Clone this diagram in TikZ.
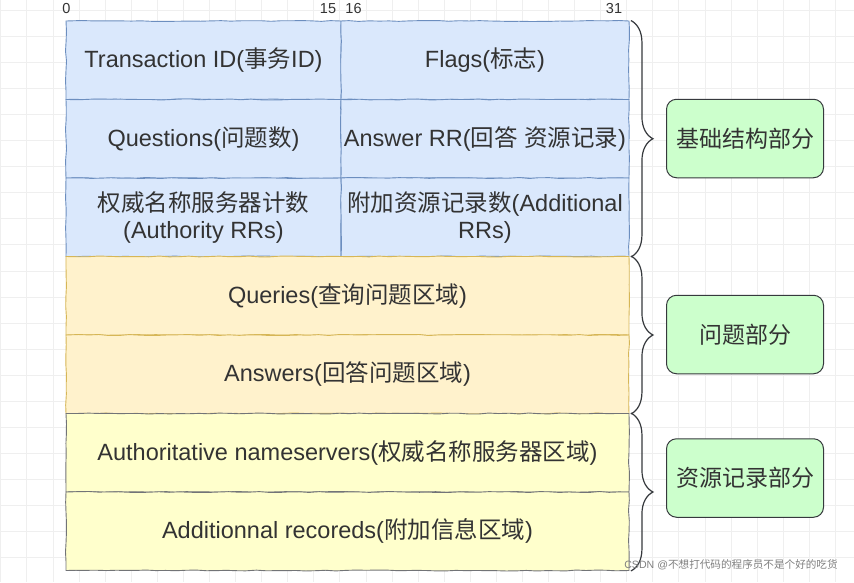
\documentclass[tikz,border=0pt]{standalone}
\usepackage{fontspec}
\setmainfont{Liberation Sans}
\newfontfamily\cjk{Noto Sans CJK SC}
\newcommand{\zh}[1]{{\cjk #1}}
\usetikzlibrary{decorations.pathreplacing,decorations.pathmorphing}
\definecolor{ink}{HTML}{333333}
\definecolor{bluefill}{HTML}{DAE8FC}
\definecolor{bluedraw}{HTML}{6C8EBF}
\definecolor{orangefill}{HTML}{FFF2CC}
\definecolor{orangedraw}{HTML}{D6B656}
\definecolor{yellowfill}{HTML}{FFFFCC}
\definecolor{darkdraw}{HTML}{36393D}
\definecolor{greenfill}{HTML}{CCFFCC}
\definecolor{gridline}{HTML}{EFEFEF}
\tikzset{
  cell/.style={draw, line width=0.9pt, inner sep=0pt, minimum height=78.5pt,
    align=center, text=ink, font=\fontsize{23.5}{27}\selectfont,
    decorate, decoration={random steps, segment length=10pt, amplitude=0.5pt}},
  leftcell/.style={cell, minimum width=275pt},
  rightcell/.style={cell, minimum width=288pt},
  widecell/.style={cell, minimum width=563pt},
  basecell/.style={fill=bluefill, draw=bluedraw},
  querycell/.style={fill=orangefill, draw=orangedraw},
  rrcell/.style={fill=yellowfill, draw=darkdraw!70},
  part/.style={draw=darkdraw, fill=greenfill, line width=1pt, rounded corners=10pt,
    minimum width=157pt, minimum height=78.5pt, text=ink,
    font=\fontsize{23}{26}\selectfont\cjk},
  bracket/.style={draw=darkdraw, line width=1.2pt, decorate,
    decoration={brace, amplitude=22pt}},
  bitnum/.style={text=ink, inner sep=0pt, font=\fontsize{14.5}{14.5}\selectfont}
}
\begin{document}
\begin{tikzpicture}[x=1pt,y=-1pt]
  \fill[white] (0,0) rectangle (854,582);
  \useasboundingbox (0,0) rectangle (854,582);
  \foreach \i in {0,...,32}
    \draw[gridline, line width=0.6pt] (0.7+26.08*\i,0) -- (0.7+26.08*\i,582);
  \foreach \j in {0,...,22}
    \draw[gridline, line width=0.6pt] (0,10+26.08*\j) -- (854,10+26.08*\j);

  \node[bitnum] (b0) at (66.5,9) {0};
  \node[bitnum] (b15) at (328,9) {15};
  \node[bitnum] (b16) at (353.5,9) {16};
  \node[bitnum] (b31) at (614,9) {31};

  \node[leftcell, basecell] (tid) at (203.5,60.25) {Transaction ID(\zh{事务}ID)};
  \node[rightcell, basecell] (flags) at (485,60.25) {Flags(\zh{标志})};
  \node[leftcell, basecell] (qdcount) at (203.5,138.75) {Questions(\zh{问题数})};
  \node[rightcell, basecell] (ancount) at (485,138.75) {Answer RR(\zh{回答} \zh{资源记录})};
  \node[leftcell, basecell] (nscount) at (203.5,217.25) {\zh{权威名称服务器计数}\\(Authority RRs)};
  \node[rightcell, basecell] (arcount) at (485,217.25) {\zh{附加资源记录数}(Additional\\RRs)};
  \node[widecell, querycell] (queries) at (347.5,295.75) {Queries(\zh{查询问题区域})};
  \node[widecell, querycell] (answers) at (347.5,374.25) {Answers(\zh{回答问题区域})};
  \node[widecell, rrcell] (authns) at (347.5,452.75) {Authoritative nameservers(\zh{权威名称服务器区域})};
  \node[widecell, rrcell] (addrec) at (347.5,531.25) {Additionnal recoreds(\zh{附加信息区域})};

  \node[part] (header) at (745,138.5) {基础结构部分};
  \node[part] (question) at (745,334.5) {问题部分};
  \node[part] (resource) at (745,478) {资源记录部分};

  \draw[bracket] ([xshift=1.5pt]flags.north east) -- ([xshift=1.5pt]arcount.south east);
  \draw[bracket] ([xshift=1.5pt]queries.north east) -- ([xshift=1.5pt]answers.south east);
  \draw[bracket] ([xshift=1.5pt]authns.north east) -- ([xshift=1.5pt]addrec.south east);

  \node[text=gray, inner sep=0pt, font=\fontsize{10.6}{11}\selectfont] (mark) at (731,565)
    {CSDN @\zh{不想打代码的程序员不是个好的吃货}};
\end{tikzpicture}
\end{document}
